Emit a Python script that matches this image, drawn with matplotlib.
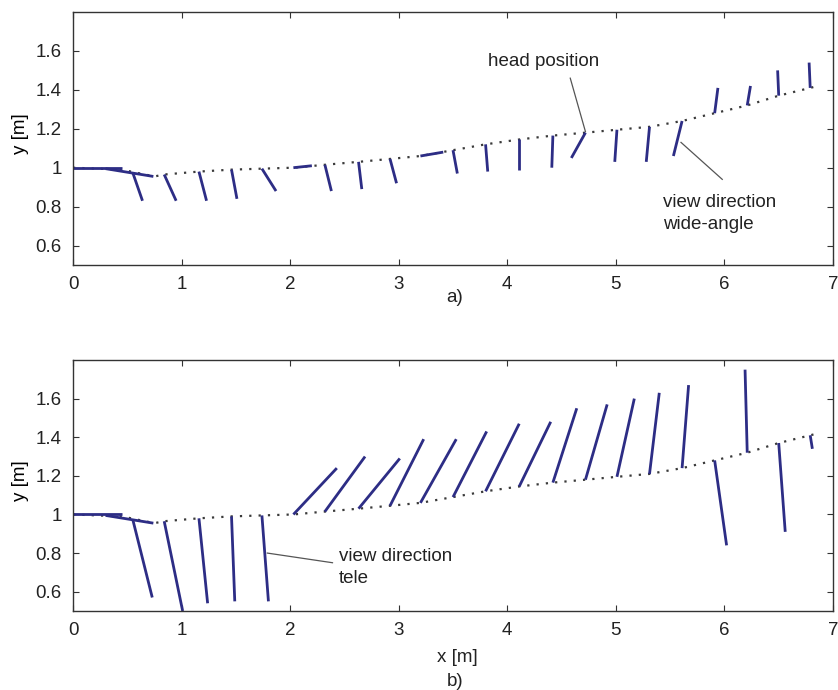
import numpy as np
import matplotlib
matplotlib.use("Agg")
import matplotlib.pyplot as plt
from matplotlib.ticker import FormatStrFormatter

plt.rcParams['font.family'] = ['Liberation Sans', 'DejaVu Sans']
plt.rcParams['text.color'] = '#222222'
plt.rcParams['xtick.labelcolor'] = '#222222'
plt.rcParams['ytick.labelcolor'] = '#222222'

# head positions along the walked path
head_x = [0.55, 0.84, 1.16, 1.46, 1.74, 2.03, 2.32, 2.63, 2.92, 3.20, 3.50,
          3.80, 4.11, 4.42, 4.72, 5.01, 5.31, 5.61, 5.91, 6.21, 6.50, 6.79]
head_y = [0.975, 0.965, 0.98, 0.99, 0.995, 1.0, 1.015, 1.03, 1.045, 1.06, 1.09,
          1.12, 1.145, 1.165, 1.18, 1.195, 1.21, 1.24, 1.28, 1.32, 1.37, 1.41]

# end points of the wide-angle view direction segments
wide_x = [0.64, 0.95, 1.23, 1.51, 1.87, 2.20, 2.38, 2.66, 2.98, 3.41, 3.54,
          3.82, 4.11, 4.41, 4.59, 4.99, 5.28, 5.53, 5.94, 6.24, 6.49, 6.78]
wide_y = [0.83, 0.83, 0.83, 0.84, 0.88, 1.01, 0.88, 0.89, 0.92, 1.08, 0.97,
          0.98, 0.99, 1.00, 1.05, 1.03, 1.03, 1.06, 1.41, 1.42, 1.50, 1.54]

# end points of the tele view direction segments
tele_x = [0.73, 1.01, 1.24, 1.49, 1.80, 2.43, 2.69, 3.01, 3.23, 3.53, 3.81,
          4.11, 4.40, 4.64, 4.92, 5.17, 5.40, 5.67, 6.02, 6.19, 6.56, 6.81]
tele_y = [0.57, 0.50, 0.54, 0.55, 0.55, 1.24, 1.30, 1.29, 1.39, 1.39, 1.43,
          1.47, 1.48, 1.55, 1.57, 1.60, 1.63, 1.67, 0.84, 1.75, 0.91, 1.34]

# first view segments at the start of the walk (same in both plots)
start_x0 = [0.0, 0.30]
start_y0 = [1.0, 0.995]
start_x1 = [0.45, 0.74]
start_y1 = [1.0, 0.955]

# dotted head trajectory
path_x = [0.0, 0.45, 0.75] + head_x[1:] + [6.86]
path_y = [1.0, 0.99, 0.955] + head_y[1:] + [1.42]

view_col = '#2d2d85'
lead_col = '#555555'
fs = 13.5

fig = plt.figure(figsize=(8.38, 6.90), dpi=100)
ax1 = fig.add_axes([73 / 838, 1 - 265 / 690, 760 / 838, 253 / 690])
ax2 = fig.add_axes([73 / 838, 1 - 611 / 690, 760 / 838, 251 / 690])


def draw_panel(ax, end_x, end_y):
    ax.plot(path_x, path_y, color='#3a3a3a', lw=1.6, linestyle=(0, (1, 3.2)))
    for x0, y0, x1, y1 in zip(start_x0, start_y0, start_x1, start_y1):
        ax.plot([x0, x1], [y0, y1], color=view_col, lw=2.0, solid_capstyle='butt')
    for x0, y0, x1, y1 in zip(head_x, head_y, end_x, end_y):
        ax.plot([x0, x1], [y0, y1], color=view_col, lw=2.0, solid_capstyle='butt')
    ax.set_xlim(0, 7)
    ax.set_ylim(0.5, 1.8)
    ax.set_xticks(range(8))
    ax.set_yticks([0.6, 0.8, 1.0, 1.2, 1.4, 1.6])
    ax.yaxis.set_major_formatter(FormatStrFormatter('%g'))
    ax.tick_params(direction='in', top=True, right=True, length=4,
                   color='#333333', labelsize=fs, pad=8)
    for s in ax.spines.values():
        s.set_linewidth(1.0)
        s.set_color('#333333')
    ax.set_ylabel('y [m]', fontsize=fs)
    ax.yaxis.set_label_coords(-0.058, 0.52)


draw_panel(ax1, wide_x, wide_y)
draw_panel(ax2, tele_x, tele_y)

# annotations, panel a
ax1.text(3.82, 1.546, 'head position', fontsize=fs, ha='left', va='center')
ax1.plot([4.58, 4.72], [1.46, 1.185], color=lead_col, lw=0.9)
ax1.text(5.43, 0.765, 'view direction\nwide-angle', fontsize=fs,
         ha='left', va='center', linespacing=1.45)
ax1.plot([5.60, 5.98], [1.13, 0.94], color=lead_col, lw=0.9)

# annotations, panel b
ax2.text(2.45, 0.725, 'view direction\ntele', fontsize=fs,
         ha='left', va='center', linespacing=1.45)
ax2.plot([1.79, 2.39], [0.80, 0.75], color=lead_col, lw=0.9)

fig.text(455 / 838, 1 - 298 / 690, 'a)', fontsize=fs, ha='center', va='center')
fig.text(457 / 838, 1 - 657 / 690, 'x [m]', fontsize=fs, ha='center', va='center')
fig.text(455 / 838, 1 - 682 / 690, 'b)', fontsize=fs, ha='center', va='center')

fig.savefig('out.png', dpi=100)
